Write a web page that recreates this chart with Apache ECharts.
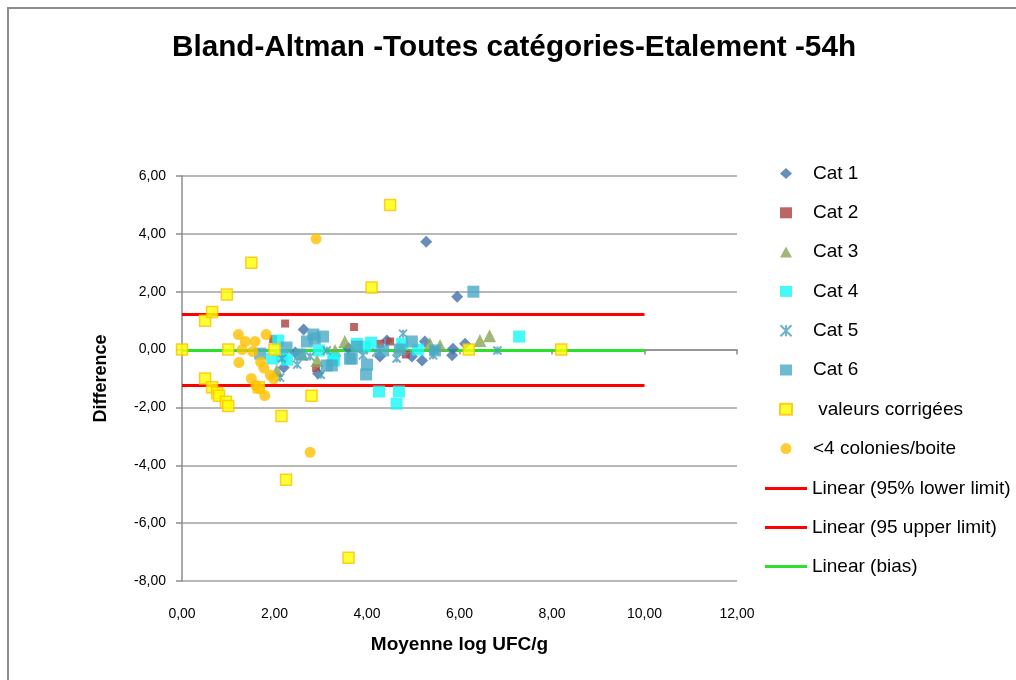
<!DOCTYPE html>
<html>
<head>
<meta charset="utf-8">
<script src="https://cdn.jsdelivr.net/npm/echarts@6/dist/echarts.min.js"></script>
<style>
  html, body { margin: 0; padding: 0; background: #fff; }
  #chart { width: 1016px; height: 680px; }
</style>
</head>
<body>
<div id="chart"></div>
<script>
// Bland-Altman points per category: [mean log UFC/g, difference]
const cat1 = [[2.63,0.69],[5.28,3.73],[5.95,1.83],[2.2,-0.62],[2.94,-0.83],[5.25,0.28],[4.43,0.31],[4.28,-0.24],[5.19,-0.38],[5.86,0.03],[5.84,-0.2],[6.12,0.2],[4.97,-0.24],[2.45,-0.1],[3.6,0.05]];
const cat2 = [[2.23,0.9],[3.72,0.78],[1.97,0.36],[2.9,-0.64],[4.5,0.28],[4.28,0.2],[4.84,-0.17]];
const cat3 = [[6.65,0.48],[6.44,0.31],[3.52,0.28],[3.31,-0.03],[5.36,0.2],[5.58,0.14],[2.92,-0.38],[2.05,-0.72],[4.7,0.1],[2.6,-0.15]];
const cat4 = [[7.29,0.45],[4.26,-1.45],[4.69,-1.45],[4.64,-1.87],[4.09,0.24],[4.76,0.2],[5.1,0],[3.29,-0.38],[3.78,0.2],[2.08,0.31],[1.95,-0.31],[2.96,-0.03],[3.27,-0.31],[2.16,-0.2],[2.27,-0.35],[3.95,0.1]];
const cat5 = [[4.78,0.55],[4.64,-0.31],[5.43,-0.2],[6.82,-0.03],[3.91,-0.2],[2.16,-0.31],[2.49,-0.52],[2.77,-0.24],[3.13,-0.03],[2.12,-0.97],[3.0,-0.87],[5.47,-0.03],[4.2,-0.1]];
const cat6 = [[6.3,2.0],[2.84,0.52],[2.87,0.38],[2.7,0.28],[2.26,0.07],[2.55,-0.17],[3.13,-0.55],[3.67,-0.31],[1.69,-0.14],[3.78,0.1],[3.63,-0.31],[4.0,-0.52],[3.98,-0.86],[4.35,-0.03],[4.71,0],[4.97,0.28],[5.47,-0.03],[3.24,-0.55],[3.05,0.45]];
const corrected = [[0,0],[0.5,1.0],[0.65,1.3],[0.97,1.9],[1.5,3.0],[0.5,-1.0],[0.65,-1.3],[0.76,-1.5],[0.8,-1.6],[0.95,-1.8],[1.0,-1.95],[1.0,0],[2.0,0],[1.66,-1.3],[2.8,-1.6],[2.15,-2.3],[2.25,-4.5],[3.6,-7.2],[4.1,2.15],[4.5,5.0],[6.2,0],[8.2,0]];
const fewColonies = [[2.9,3.83],[2.77,-3.55],[1.22,0.52],[1.82,0.52],[1.37,0.28],[1.58,0.28],[1.3,0],[1.53,-0.07],[1.23,-0.45],[1.7,-0.43],[1.77,-0.64],[1.91,-0.88],[1.98,-1.0],[1.5,-1.0],[1.6,-1.24],[1.67,-1.35],[1.79,-1.59]];

// Agreement limits and bias, drawn over this x span
const upperLimit = 1.21;
const lowerLimit = -1.24;
const bias = -0.03;
const limitSpan = [0, 10];

// Axis ranges
const xRange = { min: 0, max: 12, step: 2 };
const yRange = { min: -8, max: 6, step: 2 };

// Legend groups
const pointNames = ['Cat 1','Cat 2','Cat 3','Cat 4','Cat 5','Cat 6',' valeurs corrigées','<4 colonies/boite'];
const lineNames = ['Linear (95% lower limit)','Linear (95 upper limit)','Linear (bias)'];

const FONT = 'Liberation Sans';
const fmt = v => v.toFixed(2).replace('.', ',');
const hline = y => limitSpan.map(x => [x, y]);

const X_MARK = 'path://M0,0L10,10M10,0L0,10M5,0L5,10';

const chart = echarts.init(document.getElementById('chart'), null, { renderer: 'canvas' });

const scatter = (name, data, symbol, size, style, z) => ({
  name, type: 'scatter', data, symbol, symbolSize: size, itemStyle: style, z: z || 3,
  emphasis: { disabled: true }, animation: false
});
const limitLine = (name, y, color) => ({
  name, type: 'line', data: hline(y), symbol: 'none', showSymbol: false,
  lineStyle: { color, width: 3 }, itemStyle: { color }, z: 2, animation: false
});
const legendText = { fontFamily: FONT, fontSize: 19, color: '#000' };

chart.setOption({
  animation: false,
  backgroundColor: '#ffffff',
  textStyle: { fontFamily: FONT },
  title: {
    text: 'Bland-Altman -Toutes catégories-Etalement -54h',
    left: 167, top: 28,
    textStyle: { fontFamily: FONT, fontSize: 29.7, fontWeight: 'bold', color: '#000' }
  },
  graphic: [{
    type: 'rect', shape: { x: 8, y: 8, width: 1200, height: 1000 },
    style: { fill: 'none', stroke: '#8c8c8c', lineWidth: 2 }, silent: true, z: -10
  }],
  legend: [{
    orient: 'vertical', left: 779, top: 164, padding: 0,
    itemWidth: 12, itemHeight: 11, itemGap: 20.3,
    textStyle: Object.assign({ padding: [0, 0, 0, 16] }, legendText),
    data: pointNames
  }, {
    orient: 'vertical', left: 765, top: 479, padding: 0,
    itemWidth: 42, itemHeight: 3, itemGap: 20, icon: 'rect',
    textStyle: legendText,
    data: lineNames
  }],
  grid: { left: 182, top: 176, right: 279, bottom: 99, containLabel: false },
  xAxis: [{
    type: 'value', min: xRange.min, max: xRange.max, interval: xRange.step, position: 'bottom',
    axisLine: { show: false, onZero: false }, axisTick: { show: false }, splitLine: { show: false },
    axisLabel: { formatter: fmt, margin: 26, fontSize: 14, color: '#000', fontFamily: FONT },
    name: 'Moyenne log UFC/g', nameLocation: 'middle', nameGap: 54,
    nameTextStyle: { fontFamily: FONT, fontSize: 19, fontWeight: 'bold', color: '#000' }
  }, {
    type: 'value', min: xRange.min, max: xRange.max, interval: xRange.step, position: 'top',
    axisLine: { show: true, onZero: true, lineStyle: { color: '#8c8c8c', width: 1.5 } },
    axisTick: { show: true, inside: true, length: 5, lineStyle: { color: '#8c8c8c', width: 1.5 } },
    axisLabel: { show: false }, splitLine: { show: false }
  }],
  yAxis: {
    type: 'value', min: yRange.min, max: yRange.max, interval: yRange.step,
    axisLine: { show: true, onZero: false, lineStyle: { color: '#8c8c8c', width: 1.5 } },
    axisTick: { show: true, length: 6, lineStyle: { color: '#8c8c8c', width: 1.5 } },
    splitLine: { show: true, lineStyle: { color: '#a0a0a0', width: 1.5 } },
    axisLabel: { formatter: fmt, margin: 16, fontSize: 14, color: '#000', fontFamily: FONT },
    name: 'Difference', nameLocation: 'middle', nameGap: 72, nameRotate: 90,
    nameTextStyle: { fontFamily: FONT, fontSize: 18, fontWeight: 'bold', color: '#000' }
  },
  series: [
    limitLine(lineNames[0], lowerLimit, '#ff0000'),
    limitLine(lineNames[1], upperLimit, '#ff0000'),
    limitLine(lineNames[2], bias, '#2ee02e'),
    scatter(pointNames[0], cat1, 'diamond', 12, { color: '#4470aa' }),
    scatter(pointNames[1], cat2, 'rect', 8, { color: '#a8403e' }),
    scatter(pointNames[2], cat3, 'triangle', 13, { color: '#8aa556' }),
    scatter(pointNames[3], cat4, 'rect', 12, { color: '#18f7f7' }),
    scatter(pointNames[4], cat5, X_MARK, 8,
            { color: 'rgba(0,0,0,0)', borderColor: '#4a9fbd', borderWidth: 2 }),
    scatter(pointNames[5], cat6, 'rect', 12, { color: '#4aaac5' }),
    scatter(pointNames[6], corrected, 'rect', 11,
            { color: '#ffff00', borderColor: '#ffc000', borderWidth: 1.5 }, 4),
    scatter(pointNames[7], fewColonies, 'circle', 11, { color: '#ffc000' }, 5)
  ]
});
</script>
</body>
</html>
